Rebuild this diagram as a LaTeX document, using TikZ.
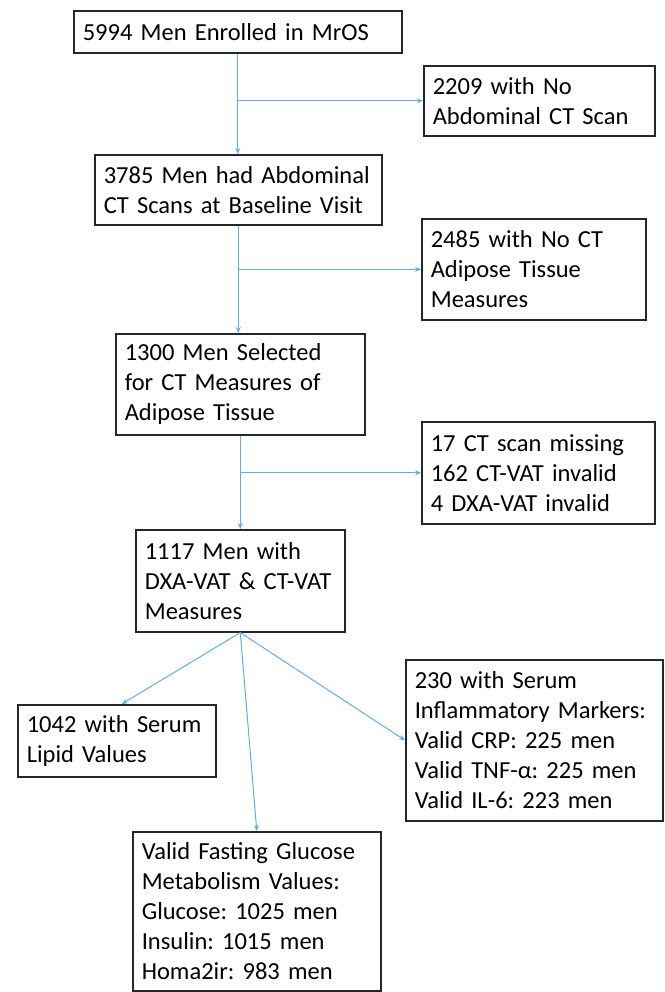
\documentclass[tikz,border=0pt]{standalone}
\usepackage{fontspec}
\setmainfont{Carlito}
\frenchspacing
\usetikzlibrary{arrows.meta}
\definecolor{arrowblue}{RGB}{95,175,225}
\begin{document}
\begin{tikzpicture}[x=1pt,y=-1pt,
  box/.style={draw=black!85, line width=1.6pt, anchor=north west, align=left,
    inner xsep=9pt, inner ysep=0pt, font=\fontsize{24.5}{30}\selectfont},
  arr/.style={draw=arrowblue, line width=1pt, -{Stealth[length=6pt,width=5pt]}}]
\useasboundingbox (0,0) rectangle (664,992);
\newcommand{\bx}[6]{\node[box, minimum width=#4pt, minimum height=#5pt, text width=#4pt-18pt] (#1) at (#2,#3) {#6};}
\bx{b1}{73}{10}{328}{42}{5994 Men Enrolled in MrOS}
\bx{b2}{423}{65}{231}{70}{2209 with No\\Abdominal CT Scan}
\bx{b3}{94}{154}{287}{70}{3785 Men had Abdominal\\CT Scans at Baseline Visit}
\bx{b4}{421}{218}{224}{101}{2485 with No CT\\Adipose Tissue\\Measures}
\bx{b5}{115}{333}{249}{101}{1300 Men Selected\\for CT Measures of\\Adipose Tissue}
\bx{b6}{421}{421}{233}{102}{17 CT scan missing\\162 CT-VAT invalid\\4 DXA-VAT invalid}
\bx{b7}{135}{529}{209}{102}{1117 Men with\\DXA-VAT \& CT-VAT\\Measures}
\bx{b8}{17}{704}{198}{72}{1042 with Serum\\Lipid Values}
\bx{b9}{405}{659}{257}{161}{230 with Serum\\Inflammatory Markers:\\Valid CRP: 225 men\\Valid TNF-α: 225 men\\Valid IL-6: 223 men}
\bx{b10}{132}{831}{248}{159}{Valid Fasting Glucose\\Metabolism Values:\\Glucose: 1025 men\\Insulin: 1015 men\\Homa2ir: 983 men}
\draw[arr] (b1.south) -- (b1.south |- b3.north);
\draw[arr] (b1.south |- b2.west) -- (b2.west);
\draw[arr] (b3.south) -- (b3.south |- b5.north);
\draw[arr] (b3.south |- b4.west) -- (b4.west);
\draw[arr] (b5.south) -- (b5.south |- b7.north);
\draw[arr] (b5.south |- b6.west) -- (b6.west);
\draw[arr] (b7.south) -- ([xshift=5pt]b8.north);
\draw[arr] (b7.south) -- (b10.north);
\draw[arr] (b7.south) -- (b9.west);
\end{tikzpicture}
\end{document}
